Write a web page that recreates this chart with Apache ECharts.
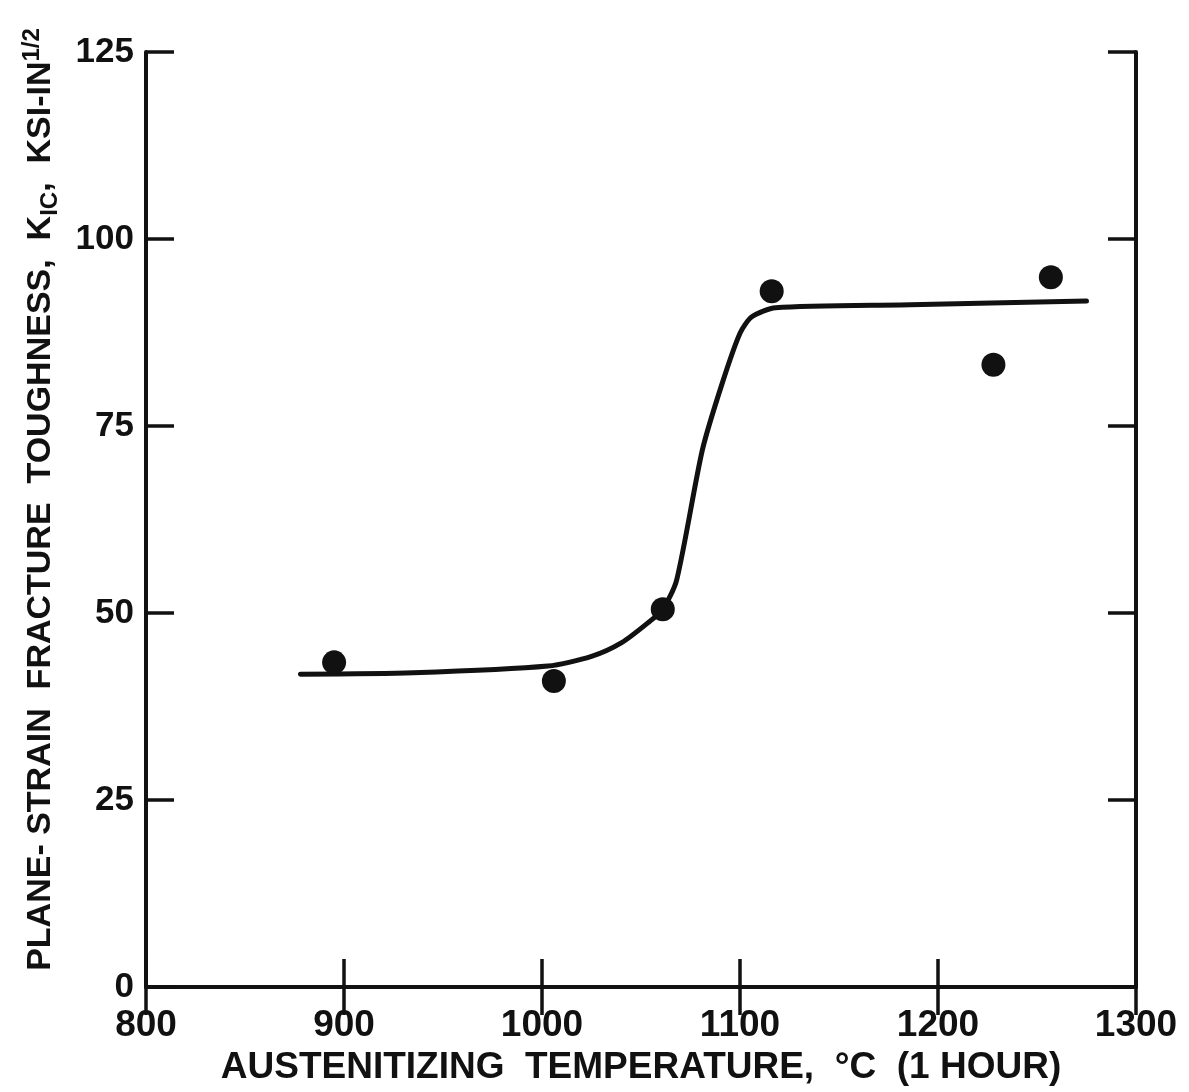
<!DOCTYPE html>
<html>
<head>
<meta charset="utf-8">
<script src="https://cdn.jsdelivr.net/npm/echarts@6/dist/echarts.min.js"></script>
<style>
  html, body { margin: 0; padding: 0; background: #fff; }
  #chart { width: 1189px; height: 1092px; }
</style>
</head>
<body>
<div id="chart"></div>
<script>
// 测量点：奥氏体化温度 (°C) 与 K_IC
const tempPoints = [895, 1006, 1061, 1116, 1228, 1257];
const kicPoints = [43.4, 40.9, 50.5, 93.0, 83.2, 94.9];
// 手绘拟合曲线
const curveTemp = [878, 935, 1003, 1025, 1040, 1054, 1061, 1068, 1081, 1091, 1100, 1106, 1118, 1186, 1275];
const curveKic = [41.8, 42.0, 42.9, 44.2, 46.0, 48.8, 50.5, 54.4, 71.8, 80.7, 87.4, 89.6, 90.8, 91.2, 91.7];
// 刻度
const xTicks = [800, 900, 1000, 1100, 1200, 1300];
const yTicks = [0, 25, 50, 75, 100, 125];

const ink = '#111';
const fontFam = '"Liberation Sans", "DejaVu Sans", sans-serif';

const chart = echarts.init(document.getElementById('chart'));

const frameAxis = {
  axisLine: { show: true, lineStyle: { color: ink, width: 4 } },
  axisTick: { show: true, inside: true, length: 28, lineStyle: { color: ink, width: 3.5 } },
  splitLine: { show: false }
};

const option = {
  backgroundColor: '#fff',
  animation: false,
  grid: { left: 146, right: 53, top: 52, bottom: 105 },
  xAxis: [
    {
      type: 'value', min: xTicks[0], max: xTicks[xTicks.length - 1], interval: 100,
      position: 'bottom',
      ...frameAxis,
      axisLabel: { color: ink, fontSize: 37, fontFamily: fontFam, fontWeight: 'bold', margin: 20, formatter: v => String(v) },
      name: 'AUSTENITIZING  TEMPERATURE,  °C  (1 HOUR)',
      nameLocation: 'middle',
      nameGap: 60,
      nameTextStyle: { color: ink, fontSize: 37, fontFamily: fontFam, fontWeight: 'bold' }
    },
    {
      type: 'value', min: xTicks[0], max: xTicks[xTicks.length - 1], interval: 100,
      position: 'top',
      ...frameAxis,
      axisLabel: { show: false }
    }
  ],
  yAxis: [
    {
      type: 'value', min: yTicks[0], max: yTicks[yTicks.length - 1], interval: 25,
      position: 'left',
      ...frameAxis,
      axisLabel: { color: ink, fontSize: 35, fontFamily: fontFam, fontWeight: 'bold', margin: 12 },
      name: '{a|PLANE- STRAIN  FRACTURE  TOUGHNESS,  K}{s|IC}{a|,  KSI-IN}{p|1/2}',
      nameLocation: 'middle',
      nameGap: 84,
      nameTextStyle: {
        color: ink,
        padding: [0, 0, 0, 40],
        rich: {
          a: { fontSize: 34, fontFamily: fontFam, fontWeight: 'bold', color: ink, lineHeight: 42, verticalAlign: 'middle' },
          s: { fontSize: 24, fontFamily: fontFam, fontWeight: 'bold', color: ink, lineHeight: 24, verticalAlign: 'bottom' },
          p: { fontSize: 24, fontFamily: fontFam, fontWeight: 'bold', color: ink, lineHeight: 24, verticalAlign: 'top' }
        }
      }
    },
    {
      type: 'value', min: yTicks[0], max: yTicks[yTicks.length - 1], interval: 25,
      position: 'right',
      ...frameAxis,
      axisLabel: { show: false }
    }
  ],
  series: [
    {
      type: 'line',
      data: curveTemp.map((t, i) => [t, curveKic[i]]),
      smooth: 0.25,
      showSymbol: false,
      lineStyle: { color: ink, width: 5, cap: 'round' },
      z: 2
    },
    {
      type: 'scatter',
      data: tempPoints.map((t, i) => [t, kicPoints[i]]),
      symbol: 'circle',
      symbolSize: 24,
      itemStyle: { color: ink, opacity: 1 },
      z: 3
    }
  ]
};

chart.setOption(option);
</script>
</body>
</html>
